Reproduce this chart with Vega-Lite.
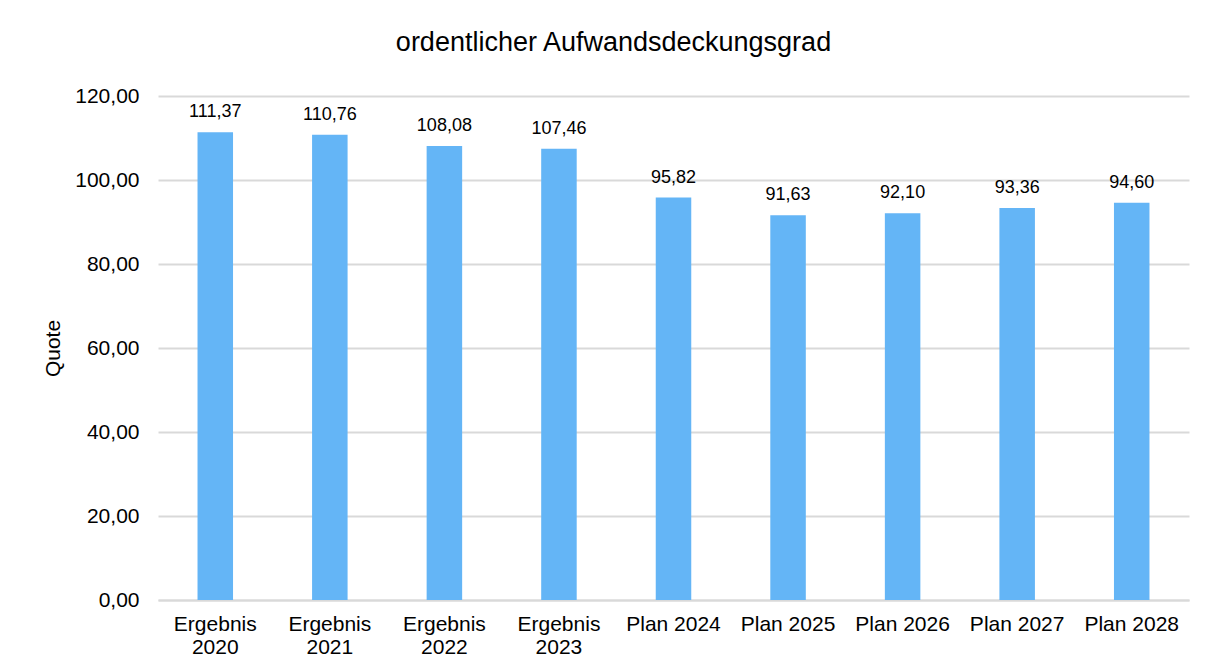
{
  "$schema": "https://vega.github.io/schema/vega-lite/v6.json",
  "width": 1031,
  "height": 504,
  "autosize": "none",
  "padding": {"left": 158, "top": 96, "right": 25, "bottom": 68},
  "background": "white",
  "config": {
    "locale": {"number": {"decimal": ",", "thousands": ".", "grouping": [3], "currency": ["", " €"]}},
    "view": {"stroke": null},
    "font": "Liberation Sans"
  },
  "title": {
    "text": "ordentlicher Aufwandsdeckungsgrad",
    "fontSize": 27,
    "fontWeight": "normal",
    "font": "Liberation Sans",
    "color": "#000000",
    "anchor": "middle",
    "frame": "group",
    "dx": -60,
    "baseline": "alphabetic",
    "offset": 7
  },
  "data": {
    "values": [
      {"kategorie": "Ergebnis 2020", "quote": 111.37},
      {"kategorie": "Ergebnis 2021", "quote": 110.76},
      {"kategorie": "Ergebnis 2022", "quote": 108.08},
      {"kategorie": "Ergebnis 2023", "quote": 107.46},
      {"kategorie": "Plan 2024", "quote": 95.82},
      {"kategorie": "Plan 2025", "quote": 91.63},
      {"kategorie": "Plan 2026", "quote": 92.10},
      {"kategorie": "Plan 2027", "quote": 93.36},
      {"kategorie": "Plan 2028", "quote": 94.60}
    ]
  },
  "encoding": {
    "x": {
      "field": "kategorie",
      "type": "nominal",
      "sort": null,
      "scale": {"paddingInner": 0.69, "paddingOuter": 0.345},
      "axis": {
        "title": null,
        "labelAngle": 0,
        "labelFontSize": 21,
        "labelColor": "#000000",
        "labelFont": "Liberation Sans",
        "labelLineHeight": 23,
        "labelPadding": 13,
        "labelBaseline": "top",
        "ticks": false,
        "domain": true,
        "domainColor": "#d9d9d9",
        "domainWidth": 2,
        "labelExpr": "indexof(datum.label, 'Ergebnis') == 0 ? split(datum.label, ' ') : datum.label"
      }
    },
    "y": {
      "field": "quote",
      "type": "quantitative",
      "scale": {"domain": [0, 120], "nice": false},
      "axis": {
        "title": "Quote",
        "titleFontSize": 21,
        "titleFontWeight": "normal",
        "titleColor": "#000000",
        "titleFont": "Liberation Sans",
        "titlePadding": 11,
        "values": [0, 20, 40, 60, 80, 100, 120],
        "format": ".2f",
        "labelFontSize": 21,
        "labelColor": "#000000",
        "labelFont": "Liberation Sans",
        "labelPadding": 19,
        "ticks": false,
        "domain": false,
        "grid": true,
        "gridColor": "#d9d9d9",
        "gridWidth": 2
      }
    }
  },
  "layer": [
    {"mark": {"type": "bar", "color": "#64b5f6"}},
    {
      "mark": {"type": "text", "baseline": "bottom", "dy": -11, "fontSize": 18, "font": "Liberation Sans", "color": "#000000"},
      "encoding": {"text": {"field": "quote", "type": "quantitative", "format": ".2f"}}
    }
  ]
}
